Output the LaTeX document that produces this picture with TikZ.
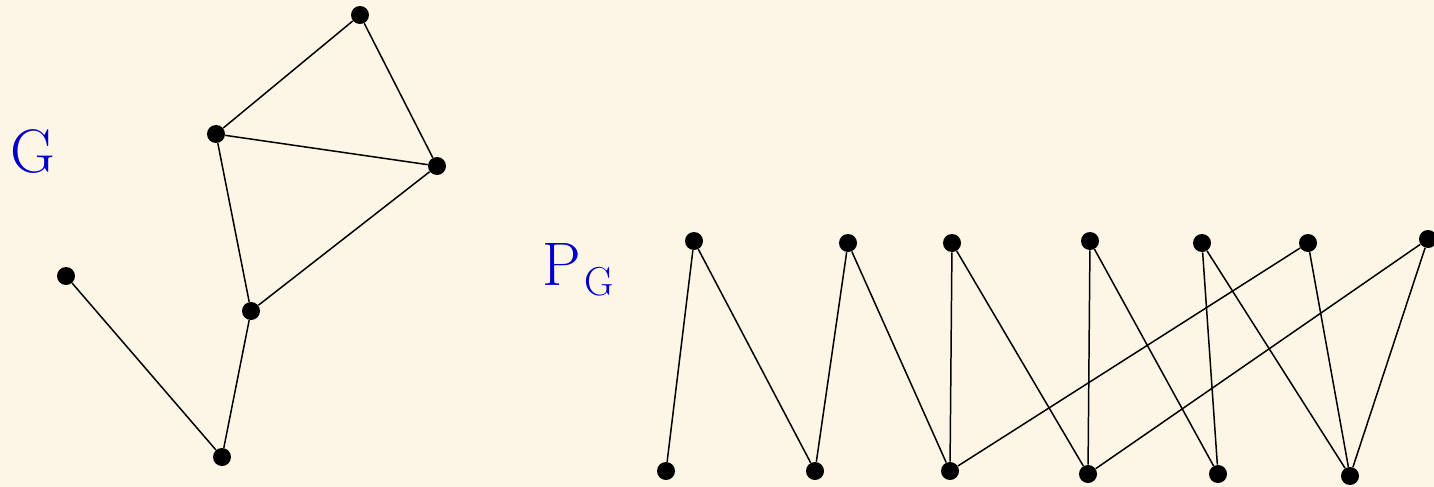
\documentclass[tikz,border=0pt]{standalone}
\usepackage{xcolor}
\usepackage{tikz}
\usetikzlibrary{positioning}
\definecolor{cbg}{RGB}{253, 245, 230}
\definecolor{cblue}{RGB}{0, 0, 205}

\begin{document}
\begin{tikzpicture}[
  x=0.02cm, y=-0.02cm,
  vertex/.style={circle, fill=black, inner sep=0pt, minimum size=0.36cm},
  edge/.style={line width=0.85pt, color=black},
  lbl/.style={font=\fontsize{35}{40}\selectfont, color=cblue, inner sep=0pt},
]

% ---- Background ----
\fill[cbg] (0,0) rectangle (1434,487);
\useasboundingbox (0,0) rectangle (1434,487);

% ---- Graph G (left side) ----
\node[lbl, anchor=base west] (glabel) at (10,172) {G};

\node[vertex] (ga) at (360,15) {};
\node[vertex] (gb) at (216,134) {};
\node[vertex] (gc) at (437,166) {};
\node[vertex] (gd) at (251,311) {};
\node[vertex] (ge) at (66,276) {};
\node[vertex] (gf) at (222,457) {};

\draw[edge] (ga) -- (gb);
\draw[edge] (ga) -- (gc);
\draw[edge] (gb) -- (gc);
\draw[edge] (gb) -- (gd);
\draw[edge] (gc) -- (gd);
\draw[edge] (gd) -- (gf);
\draw[edge] (ge) -- (gf);

% ---- Graph P_G (right side) ----
\node[lbl, anchor=base west] (plabel) at (542,285)
  {P\hspace{2pt}\raisebox{-6pt}{\fontsize{23}{26}\selectfont G}};

% top row
\node[vertex] (t1) at (694,241) {};
\node[vertex] (t2) at (848,243) {};
\node[vertex] (t3) at (952,243) {};
\node[vertex] (t4) at (1090,241) {};
\node[vertex] (t5) at (1202,243) {};
\node[vertex] (t6) at (1308,243) {};
\node[vertex] (t7) at (1428,239) {};

% bottom row
\node[vertex] (b1) at (666,471) {};
\node[vertex] (b2) at (815,471) {};
\node[vertex] (b3) at (950,471) {};
\node[vertex] (b4) at (1088,474) {};
\node[vertex] (b5) at (1218,474) {};
\node[vertex] (b6) at (1350,476) {};

\draw[edge] (t1) -- (b1);
\draw[edge] (t1) -- (b2);
\draw[edge] (t2) -- (b2);
\draw[edge] (t2) -- (b3);
\draw[edge] (t3) -- (b3);
\draw[edge] (t3) -- (b4);
\draw[edge] (t4) -- (b4);
\draw[edge] (t4) -- (b5);
\draw[edge] (t5) -- (b5);
\draw[edge] (t5) -- (b6);
\draw[edge] (t6) -- (b3);
\draw[edge] (t6) -- (b6);
\draw[edge] (t7) -- (b4);
\draw[edge] (t7) -- (b6);

\end{tikzpicture}
\end{document}
